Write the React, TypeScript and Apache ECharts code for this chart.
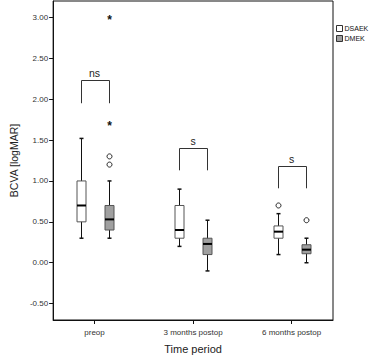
import React, { useEffect, useRef } from "react";
import * as echarts from "echarts";

const categories = ["preop", "3 months postop", "6 months postop"];
const yTicks = [-0.5, 0, 0.5, 1, 1.5, 2, 2.5, 3];
// [min, q1, median, q3, max]
const dsaekBox = [
  [0.3, 0.5, 0.7, 1.0, 1.52],
  [0.2, 0.3, 0.4, 0.7, 0.9],
  [0.1, 0.3, 0.38, 0.45, 0.6],
];
const dmekBox = [
  [0.3, 0.4, 0.53, 0.7, 1.0],
  [-0.1, 0.1, 0.23, 0.3, 0.52],
  [0.0, 0.11, 0.16, 0.22, 0.3],
];
// [category index, value]
const dsaekOutliers = [[2, 0.7]];
const dmekOutliers = [
  [0, 1.3],
  [0, 1.2],
  [2, 0.52],
];
const dmekExtremes = [
  [0, 3.0],
  [0, 1.7],
];
// [category index, top, leg bottom, label]
const brackets: [number, number, number, string][] = [
  [0, 2.23, 1.95, "ns"],
  [1, 1.4, 1.13, "s"],
  [2, 1.18, 0.91, "s"],
];

const FONT = "'Liberation Sans', Arial, sans-serif";
const OFF = 14;
const BW = 9;

function boxRender(offset: number, fill: string) {
  return (params: any, api: any) => {
    const cx = Math.round(api.coord([api.value(0), 0])[0] + offset) + 0.5;
    const y = [1, 2, 3, 4, 5].map((i) => api.coord([0, api.value(i)])[1]);
    const [yMin, yQ1, yMed, yQ3, yMax] = y;
    const lineStyle = { stroke: "#111", lineWidth: 1 };
    return {
      type: "group",
      children: [
        { type: "line", shape: { x1: cx, y1: yMax, x2: cx, y2: yMin }, style: lineStyle },
        { type: "line", shape: { x1: cx - 2, y1: yMax, x2: cx + 2, y2: yMax }, style: { stroke: "#111", lineWidth: 1.5 } },
        { type: "line", shape: { x1: cx - 2, y1: yMin, x2: cx + 2, y2: yMin }, style: { stroke: "#111", lineWidth: 1.5 } },
        {
          type: "rect",
          shape: { x: cx - BW / 2, y: yQ3, width: BW, height: yQ1 - yQ3 },
          style: { fill, stroke: "#555", lineWidth: 1 },
        },
        { type: "line", shape: { x1: cx - BW / 2, y1: yMed, x2: cx + BW / 2, y2: yMed }, style: { stroke: "#000", lineWidth: 2 } },
      ],
    };
  };
}

function circleRender(offset: number) {
  return (params: any, api: any) => {
    const p = api.coord([api.value(0), api.value(1)]);
    return {
      type: "circle",
      shape: { cx: Math.round(p[0] + offset) + 0.5, cy: p[1], r: 2.5 },
      style: { fill: "none", stroke: "#222", lineWidth: 1 },
    };
  };
}

function starRender(offset: number) {
  return (params: any, api: any) => {
    const p = api.coord([api.value(0), api.value(1)]);
    return {
      type: "text",
      x: Math.round(p[0] + offset) + 0.5,
      y: p[1] + 2.5,
      style: {
        text: "*",
        fill: "#111",
        font: `bold 12px ${FONT}`,
        align: "center",
        verticalAlign: "middle",
      },
    };
  };
}

function bracketRender(params: any, api: any) {
  const cx = api.coord([api.value(0), 0])[0];
  const xl = Math.round(cx - OFF) + 0.5;
  const xr = Math.round(cx + OFF) + 0.5;
  const yTop = Math.round(api.coord([0, api.value(1)])[1]) + 0.5;
  const yBot = api.coord([0, api.value(2)])[1];
  const label = brackets[params.dataIndex][3];
  return {
    type: "group",
    children: [
      {
        type: "polyline",
        shape: {
          points: [
            [xl, yBot],
            [xl, yTop],
            [xr, yTop],
            [xr, yBot],
          ],
        },
        style: { fill: "none", stroke: "#333", lineWidth: 1 },
      },
      {
        type: "text",
        x: cx,
        y: yTop - 8,
        style: {
          text: label,
          fill: "#222",
          font: `10.5px ${FONT}`,
          align: "center",
          verticalAlign: "middle",
        },
      },
    ],
  };
}

export default function App() {
  const ref = useRef<HTMLDivElement>(null);
  useEffect(() => {
    if (!ref.current) return;
    const chart = echarts.init(ref.current, undefined, { renderer: "svg" });
    const toBox = (arr: number[][]) => arr.map((b, i) => [i, ...b]);
    chart.setOption({
      animation: false,
      backgroundColor: "#fff",
      grid: {
        left: 40,
        right: 39,
        top: 1,
        bottom: 34,
        show: true,
        borderColor: "#111",
        borderWidth: 1,
        backgroundColor: "transparent",
      },
      legend: {
        orient: "vertical",
        left: 331,
        top: 20,
        itemWidth: 6,
        itemHeight: 6,
        itemGap: 3,
        textStyle: { fontFamily: FONT, fontSize: 7, color: "#111", padding: [0, 0, 0, -3] },
        data: [
          { name: "DSAEK", icon: "rect", itemStyle: { color: "#fff", borderColor: "#333", borderWidth: 1 } },
          { name: "DMEK", icon: "rect", itemStyle: { color: "#a0a0a0", borderColor: "#333", borderWidth: 1 } },
        ],
      },
      xAxis: {
        type: "value",
        min: -0.42,
        max: 2.42,
        splitLine: { show: false },
        axisLine: { onZero: false, lineStyle: { color: "#111" } },
        axisTick: { customValues: [0, 1, 2], length: 4, lineStyle: { color: "#111" } },
        axisLabel: {
          customValues: [0, 1, 2],
          formatter: (v: number) => categories[Math.round(v)],
          fontFamily: FONT,
          fontSize: 8,
          color: "#333",
          margin: 8,
        },
        name: "Time period",
        nameLocation: "middle",
        nameGap: 23,
        nameTextStyle: { fontFamily: FONT, fontSize: 11, color: "#222" },
      },
      yAxis: {
        type: "value",
        min: -0.7,
        max: 3.2,
        splitLine: { show: false },
        axisLine: { show: true, onZero: false, lineStyle: { color: "#111" } },
        axisTick: { show: true, customValues: yTicks, length: 4, lineStyle: { color: "#111" } },
        axisLabel: {
          customValues: yTicks,
          formatter: (v: number) => v.toFixed(2),
          fontFamily: FONT,
          fontSize: 8,
          color: "#333",
          margin: 5,
        },
        name: "BCVA [logMAR]",
        nameLocation: "middle",
        nameGap: 32,
        nameTextStyle: { fontFamily: FONT, fontSize: 10.5, color: "#222" },
      },
      series: [
        {
          name: "DSAEK",
          type: "custom",
          renderItem: boxRender(-OFF, "#fff"),
          data: toBox(dsaekBox),
          encode: { x: 0, y: [1, 2, 3, 4, 5] },
          itemStyle: { color: "#fff" },
        },
        {
          name: "DMEK",
          type: "custom",
          renderItem: boxRender(OFF, "#a0a0a0"),
          data: toBox(dmekBox),
          encode: { x: 0, y: [1, 2, 3, 4, 5] },
          itemStyle: { color: "#a0a0a0" },
        },
        {
          name: "DSAEK outliers",
          type: "custom",
          renderItem: circleRender(-OFF),
          data: dsaekOutliers,
          encode: { x: 0, y: 1 },
        },
        {
          name: "DMEK outliers",
          type: "custom",
          renderItem: circleRender(OFF),
          data: dmekOutliers,
          encode: { x: 0, y: 1 },
        },
        {
          name: "DMEK extremes",
          type: "custom",
          renderItem: starRender(OFF),
          data: dmekExtremes,
          encode: { x: 0, y: 1 },
        },
        {
          name: "brackets",
          type: "custom",
          renderItem: bracketRender,
          data: brackets.map((b) => [b[0], b[1], b[2]]),
          encode: { x: 0, y: [1, 2] },
        },
      ],
    });
    return () => chart.dispose();
  }, []);
  return <div ref={ref} style={{ width: 372, height: 359, position: "absolute", left: 0, top: 0 }} />;
}
